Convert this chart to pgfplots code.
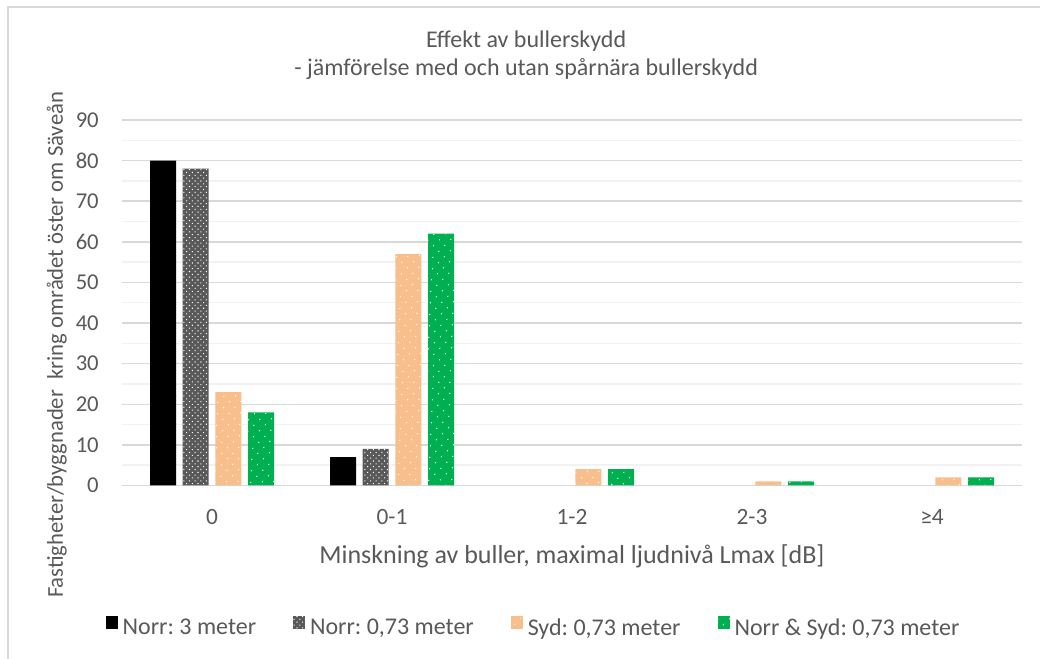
\documentclass[border=0pt]{standalone}
\usepackage{fontspec}
\setmainfont{Carlito}
\usepackage{pgfplots}
\pgfplotsset{compat=1.18}
\usetikzlibrary{patterns.meta}
\definecolor{cgray}{HTML}{595959}
\definecolor{corange}{HTML}{F8BF8C}
\definecolor{cgreen}{HTML}{00B050}
\definecolor{ctext}{HTML}{595959}
\definecolor{cgrid}{HTML}{D9D9D9}
\definecolor{cgridm}{HTML}{F2F2F2}
\frenchspacing
\begin{document}
\begin{tikzpicture}
\path[use as bounding box] (0,0) rectangle (780pt,494.25pt);
\draw[cgrid, line width=1.2pt] (6pt,-1pt) -- (6pt,489pt) -- (781pt,489pt);
\begin{axis}[
  at={(91.5pt,130.125pt)}, anchor=south west,
  scale only axis, width=675pt, height=274.125pt,
  ybar=5pt, bar width=19.5pt,
  xmin=-0.5, xmax=4.5, ymin=0, ymax=90,
  xtick={0,1,2,3,4},
  xticklabels={0,0-1,1-2,2-3,≥4},
  ytick={0,10,...,90},
  minor ytick={5,15,...,85},
  ymajorgrids, yminorgrids,
  major grid style={draw=cgrid, line width=1.1pt},
  minor grid style={draw=cgridm, line width=1.1pt},
  axis x line*=bottom, axis y line*=left,
  x axis line style={draw=cgrid, line width=1.2pt, -},
  y axis line style={draw=none},
  major tick length=0pt, minor tick length=0pt,
  tick style={draw=none},
  /pgf/number format/assume math mode=true,
  y tick label style={font=\fontsize{17}{17}\selectfont, text=ctext,
    anchor=east, inner xsep=0pt, xshift=-17.25pt},
  x tick label style={font=\fontsize{17.5}{17.5}\selectfont, text=ctext,
    anchor=base, yshift=-29.6pt},
  title={Effekt av bullerskydd\\- jämförelse med och utan spårnära bullerskydd},
  title style={align=center, at={(axis description cs:0.449,1.154)}, anchor=center,
    font=\fontsize{18}{21}\selectfont, text=ctext},
  xlabel={Minskning av buller, maximal ljudnivå Lmax [dB]},
  xlabel style={at={(axis description cs:0.5,0)}, anchor=base, yshift=-58.3pt,
    font=\fontsize{19.5}{19.5}\selectfont, text=ctext},
  ylabel={Fastigheter/byggnader\ \ kring området öster om Säveån},
  ylabel style={at={(axis description cs:-0.0656,0.3845)}, anchor=base,
    font=\fontsize{17}{17}\selectfont, text=ctext},
  legend columns=4,
  legend style={at={(axis description cs:0.4578,-0.3899)}, anchor=center, draw=none,
    font=\fontsize{18}{18}\selectfont, text=ctext, cells={anchor=west},
    nodes={inner sep=2pt},
    /tikz/every odd column/.append style={column sep=1.5pt},
    /tikz/every even column/.append style={column sep=26pt}},
  legend image code/.code={\path[#1, draw=none] (0pt,-0.5pt) rectangle (9pt,9.25pt);},
]
\addplot[fill=black, draw=none] coordinates {(0,80) (1,7)};
\addplot[fill=cgray, draw=none, postaction={pattern={Dots[distance=3pt,radius=0.55pt,angle=45]}, pattern color=white}] coordinates {(0,78) (1,9)};
\addplot[fill=corange, draw=none, postaction={pattern={Dots[distance=6.5pt,radius=0.6pt,angle=45]}, pattern color=white}] coordinates {(0,23) (1,57) (2,4) (3,1) (4,2)};
\addplot[fill=cgreen, draw=none, postaction={pattern={Dots[distance=6.5pt,radius=0.6pt,angle=45]}, pattern color=white}] coordinates {(0,18) (1,62) (2,4) (3,1) (4,2)};
\addlegendentry{Norr: 3 meter}
\addlegendentry{Norr: 0,73 meter}
\addlegendentry{Syd: 0,73 meter}
\addlegendentry{Norr \& Syd: 0,73 meter}
\end{axis}
\end{tikzpicture}
\end{document}
